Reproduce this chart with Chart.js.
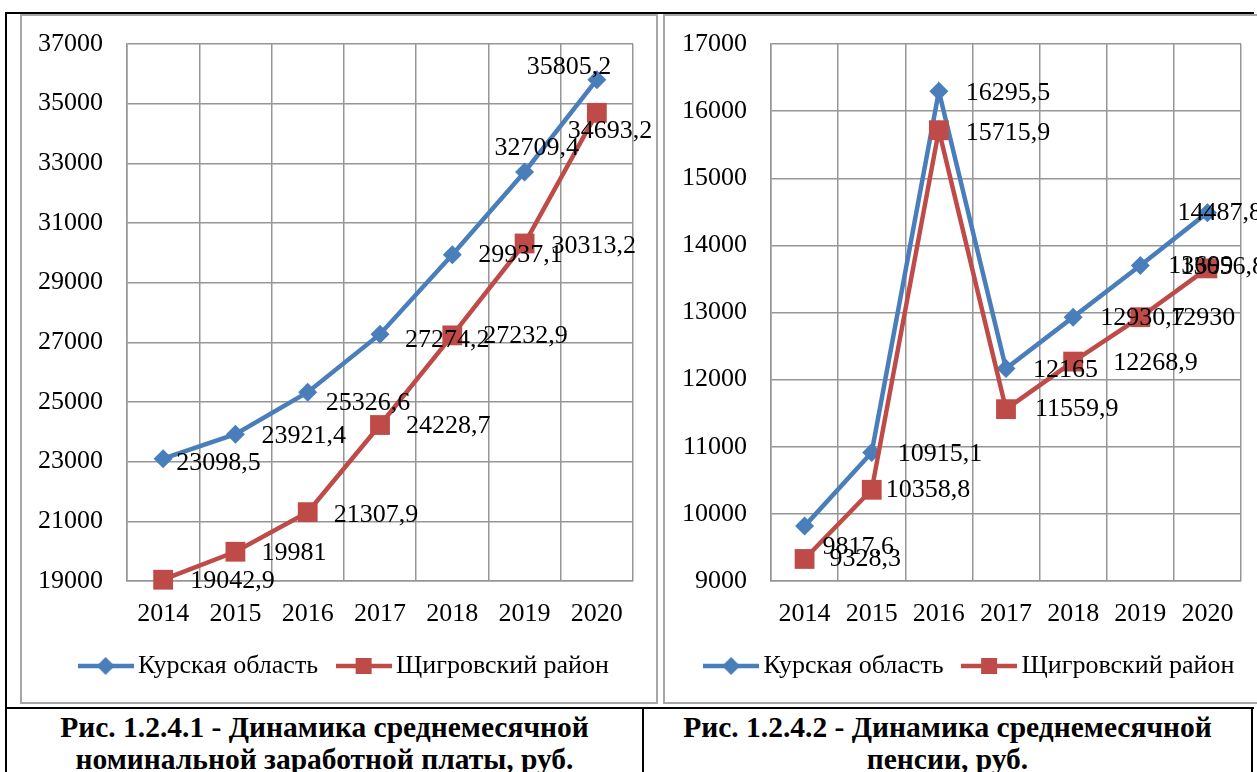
<!DOCTYPE html>
<html>
<head>
<meta charset="utf-8">
<script src="https://cdn.jsdelivr.net/npm/chart.js@4.4.1/dist/chart.umd.min.js"></script>
<style>
  html, body { margin: 0; padding: 0; background: #fff; width: 1257px; height: 772px; overflow: hidden; position: relative; font-family: "Liberation Serif", "Times New Roman", serif; }
  .box { position: absolute; border: 2px solid #a6a6a6; background: #fff; }
  .box canvas { display: block; }
  .ln { position: absolute; background: #000; z-index: 5; }
  .cap { position: absolute; top: 711px; font-weight: bold; font-size: 29.5px; line-height: 32px; text-align: center; color: #000; }
</style>
</head>
<body>
<div class="box" style="left:20px; top:14px; width:634px; height:686px;"><canvas id="wageChart" width="634" height="686"></canvas></div>
<div class="box" style="left:663px; top:14px; width:600px; height:686px;"><canvas id="pensionChart" width="600" height="686"></canvas></div>

<div class="ln" style="left:5px; top:12px; width:1249px; height:2px;"></div>
<div class="ln" style="left:5px; top:12px; width:2px; height:760px;"></div>
<div class="ln" style="left:5px; top:707px; width:1249px; height:2px;"></div>
<div class="ln" style="left:642px; top:707px; width:2px; height:65px;"></div>
<div class="ln" style="left:1251px; top:707px; width:2px; height:65px;"></div>

<div class="cap" style="left:7px; width:635px;">Рис. 1.2.4.1 - Динамика среднемесячной<br>номинальной заработной платы, руб.</div>
<div class="cap" style="left:644px; width:607px;">Рис. 1.2.4.2 - Динамика среднемесячной<br>пенсии, руб.</div>

<script>
// данные
const years = ["2014", "2015", "2016", "2017", "2018", "2019", "2020"];
const regionName = "Курская область";
const districtName = "Щигровский район";

const wageRegion = [23098.5, 23921.4, 25326.6, 27274.2, 29937.1, 32709.4, 35805.2];
const wageDistrict = [19042.9, 19981, 21307.9, 24228.7, 27232.9, 30313.2, 34693.2];

const pensionRegion = [9817.6, 10915.1, 16295.5, 12165, 12930.7, 13699, 14487.8];
const pensionDistrict = [9328.3, 10358.8, 15715.9, 11559.9, 12268.9, 12930, 13656.8];

const wageAxis = [19000, 37000, 2000];     // min, max, шаг
const pensionAxis = [9000, 17000, 1000];

// сдвиги подписей значений от точки [dx, dy], px
const wageLabelShift = [
  [[13, 4], [26, 2], [18, 11], [25, 6], [26, 0], [-30, -24], [-70, -12]],
  [[27, 1], [26, 1], [26, 3], [26, 1], [31, 1], [27, 3], [-29, 18]]
];
const pensionLabelShift = [
  [[18, 21], [26, 2], [27, 2], [27, 2], [27, 1], [28, 1], [-30, 1]],
  [[25, 0], [14, 0], [27, 3], [29, 0], [40, 2], [30, 1], [-27, -1]]
];

const FONT = '"Liberation Serif", "Times New Roman", serif';
const BLUE = "#4a7ebb";
const RED = "#be4b48";
const GRID = "#969696";

function fmt(v) {
  return String(v).replace(".", ",");
}

// значок легенды: линия с маркером посередине
function legendIcon(color, shape) {
  const c = document.createElement("canvas");
  c.width = 56;
  c.height = 22;
  const g = c.getContext("2d");
  g.strokeStyle = color;
  g.lineWidth = 4.5;
  g.beginPath();
  g.moveTo(0, 11);
  g.lineTo(56, 11);
  g.stroke();
  g.fillStyle = color;
  g.beginPath();
  if (shape === "rectRot") {
    g.moveTo(28, 2); g.lineTo(37, 11); g.lineTo(28, 20); g.lineTo(19, 11);
  } else {
    g.rect(20, 3, 16, 16);
  }
  g.fill();
  return c;
}

const valueLabels = {
  id: "valueLabels",
  afterDatasetsDraw(chart, args, opts) {
    const ctx = chart.ctx;
    ctx.save();
    ctx.font = "26px " + FONT;
    ctx.fillStyle = "#000";
    ctx.textAlign = "left";
    ctx.textBaseline = "middle";
    chart.data.datasets.forEach((ds, di) => {
      const meta = chart.getDatasetMeta(di);
      meta.data.forEach((pt, i) => {
        const s = opts.shift[di][i];
        ctx.fillText(fmt(ds.data[i]), pt.x + s[0], pt.y + s[1]);
      });
    });
    ctx.restore();
  }
};

const legendShift = {
  id: "legendShift",
  afterLayout(chart, args, opts) {
    if (chart.legend) {
      chart.legend.left += opts.dx;
      chart.legend.right += opts.dx;
    }
  }
};

function makeChart(id, regionData, districtData, axis, shift, yWidth, padRight) {
  const icons = [legendIcon(BLUE, "rectRot"), legendIcon(RED, "rect")];
  return new Chart(document.getElementById(id), {
    type: "line",
    data: {
      labels: years,
      datasets: [
        {
          label: regionName,
          data: regionData,
          borderColor: BLUE,
          backgroundColor: BLUE,
          borderWidth: 4.5,
          pointStyle: "rectRot",
          pointRadius: 9.5,
          pointBorderWidth: 0,
          tension: 0,
          clip: false,
          order: 1,
        },
        {
          label: districtName,
          data: districtData,
          borderColor: RED,
          backgroundColor: RED,
          borderWidth: 4.5,
          pointStyle: "rect",
          pointRadius: 14,
          pointBorderWidth: 0,
          tension: 0,
          clip: false,
          order: 0,
        },
      ],
    },
    options: {
      responsive: false,
      animation: false,
      layout: { padding: { top: 28, right: padRight, bottom: 13, left: 0 } },
      plugins: {
        tooltip: { enabled: false },
        legend: {
          position: "bottom",
          labels: {
            usePointStyle: true,
            pointStyleWidth: 39,
            padding: 26,
            color: "#000",
            font: { family: FONT, size: 26 },
            generateLabels: (chart) =>
              chart.data.datasets.map((ds, i) => ({
                text: ds.label,
                pointStyle: icons[i],
                fillStyle: ds.borderColor,
                strokeStyle: ds.borderColor,
                lineWidth: 0,
                hidden: false,
                datasetIndex: i,
                fontColor: "#000",
              })),
          },
        },
        valueLabels: { shift: shift },
        legendShift: { dx: 20 },
      },
      scales: {
        x: {
          offset: true,
          grid: { offset: true, color: GRID, lineWidth: 1.5, drawTicks: false },
          border: { color: GRID, width: 1.5 },
          ticks: { color: "#000", padding: 18, font: { family: FONT, size: 26 }, maxRotation: 0 },
          afterFit: (s) => { s.height = 46; },
        },
        y: {
          min: axis[0],
          max: axis[1],
          grid: { color: GRID, lineWidth: 1.5, drawTicks: false },
          border: { color: GRID, width: 1.5 },
          ticks: {
            stepSize: axis[2],
            color: "#000",
            padding: 24,
            font: { family: FONT, size: 26 },
            callback: (v) => String(v),
          },
          afterFit: (s) => {
            s.width = yWidth;
            s.paddingTop = 0;
            s.paddingBottom = 0;
          },
        },
      },
    },
    plugins: [valueLabels, legendShift],
  });
}

makeChart("wageChart", wageRegion, wageDistrict, wageAxis, wageLabelShift, 105, 23);
makeChart("pensionChart", pensionRegion, pensionDistrict, pensionAxis, pensionLabelShift, 106, 24);
</script>
</body>
</html>
